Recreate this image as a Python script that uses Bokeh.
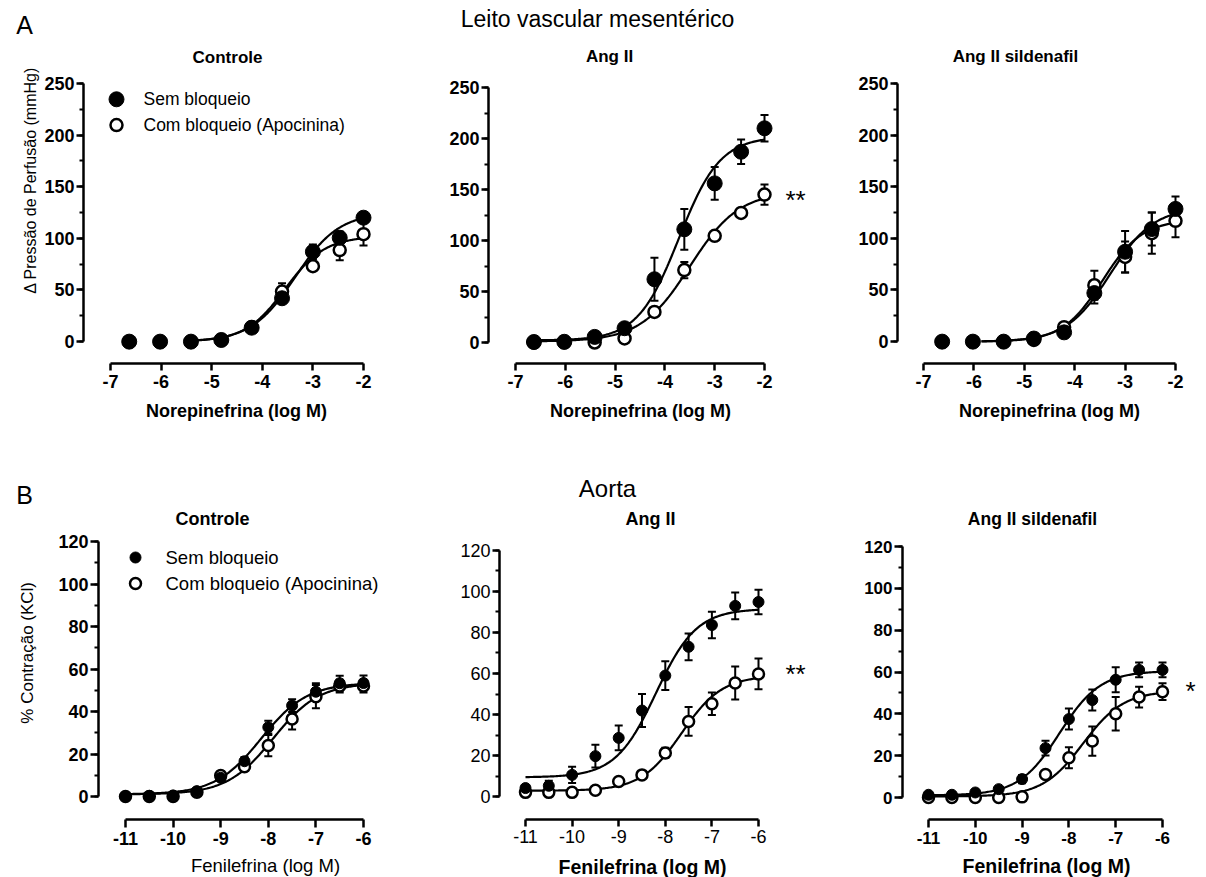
import numpy as np
from bokeh.plotting import figure
from bokeh.layouts import column, row
from bokeh.models import (Range1d, Whisker, TeeHead, ColumnDataSource,
                          SingleIntervalTicker, PrintfTickFormatter)
from bokeh.core.properties import value
from bokeh.embed import file_html
from bokeh.resources import INLINE

# ---------------- data ----------------
MES_X = [-6.63, -6.02, -5.41, -4.81, -4.21, -3.61, -3.0, -2.47, -2.0]
AO_X = [-11, -10.5, -10, -9.5, -9, -8.5, -8, -7.5, -7, -6.5, -6]

mes_ctrl_sem = [0, 0, 0, 1.6, 13.5, 42, 87, 100.6, 120]
mes_ctrl_sem_err = [0, 0, 0, 1, 2, 4, 7, 6, 4]
mes_ctrl_com = [0, 0, 0, 1.5, 14, 48.5, 73, 88.7, 104]
mes_ctrl_com_err = [0, 0, 0, 1, 2, 8, 3, 10, 11]

mes_ang_sem = [0.5, 0.7, 5.5, 14, 62, 111, 156, 187, 210]
mes_ang_sem_err = [0, 0, 2, 3, 21, 20, 16, 12, 13]
mes_ang_com = [0, 0, 0, 4, 30, 71, 104.6, 127, 145]
mes_ang_com_err = [0, 0, 0, 1, 3, 8, 3, 3, 10]

mes_sil_sem = [0, 0, 0, 3, 9, 47, 87, 109, 128.5]
mes_sil_sem_err = [0, 0, 0, 1, 2, 10, 20, 16, 12]
mes_sil_com = [0, 0, 0, 1.6, 14, 54.6, 82, 105, 117]
mes_sil_com_err = [0, 0, 0, 1, 2, 14, 15, 20, 16]

ao_ctrl_sem = [0, 0.3, 0.5, 2.5, 8.8, 16.6, 32.6, 42.8, 49.3, 53.3, 53.4]
ao_ctrl_sem_err = [0.5, 0.5, 0.5, 1, 1.5, 2, 3, 3, 4, 3.5, 3.5]
ao_ctrl_com = [0, 0, 0, 2, 9.9, 14, 24, 36.5, 47, 52, 52]
ao_ctrl_com_err = [0.5, 0.5, 0.5, 1, 2, 2, 5, 5, 5.5, 3, 3]

ao_ang_sem = [4.3, 5.4, 10.7, 19.8, 28.7, 42, 59, 73, 83.6, 92.9, 94.8]
ao_ang_sem_err = [1.5, 2.5, 4, 5.5, 6, 8, 7, 6.5, 6.5, 6.5, 6]
ao_ang_com = [2.2, 2.2, 2.2, 3.2, 7.5, 10.7, 21.4, 36.7, 45.3, 55.4, 59.8]
ao_ang_com_err = [0.5, 0.5, 0.5, 0.5, 1, 1.5, 2.5, 7, 5.5, 8, 7.5]

ao_sil_sem = [1.3, 1.3, 2.4, 4, 8.8, 23.6, 37.5, 46.6, 56.3, 61, 61]
ao_sil_sem_err = [0.5, 0.5, 0.5, 1, 2, 3.5, 5, 5, 6, 3.5, 3.5]
ao_sil_com = [0, 0, 0, 0, 0.3, 11, 19, 27, 40, 48, 50.6]
ao_sil_com_err = [0.5, 0.5, 0.5, 0.5, 0.5, 1, 5, 7, 8, 5, 4]

# sigmoidal fit parameters (bottom, top, logEC50, hill) and fitted x span
fit_mes_ctrl_sem = (0, 125, -3.35, 1.0)
fit_mes_ctrl_com = (0, 102, -3.55, 1.1)
fit_mes_ang_sem = (2, 202, -3.72, 1.05)
fit_mes_ang_com = (1, 148, -3.5, 0.88)
fit_mes_sil_sem = (0, 130, -3.3, 1.0)
fit_mes_sil_com = (0, 118, -3.45, 1.1)
fit_ao_ctrl_sem = (1, 53.5, -8.15, 0.9)
fit_ao_ctrl_com = (1, 53.5, -7.9, 0.9)
fit_ao_ang_sem = (9.5, 91.5, -8.2, 1.0)
fit_ao_ang_com = (3, 59, -7.65, 1.0)
fit_ao_sil_sem = (1, 60.5, -8.2, 1.0)
fit_ao_sil_com = (0.5, 51, -7.7, 1.0)

span_mes_ctrl = (-5.41, -2.0)
span_mes_ang = (-6.63, -2.0)
span_mes_sil = (-5.85, -2.0)
span_ao = (-11, -6)

MES_XTICKS = (-7, -2)
AO_XTICKS = (-11, -6)
MES_YB = (0, 250)
AO_YB = (0, 120)

LEGEND = ["Sem bloqueio", "Com bloqueio (Apocinina)"]

FONT = "Liberation Sans"
W = 1206


def sigmoid(x, prm):
    b, t, ec, h = prm
    return b + (t - b) / (1 + 10 ** ((ec - x) * h))


def no_title(p):
    try:
        p.title = None
    except Exception:
        pass


class Geo:
    def __init__(self, cx, cy, cw, ch, L, R, T, B, xa, xb, ya, yb):
        self.cx, self.cy, self.cw, self.ch = cx, cy, cw, ch
        self.L, self.R, self.T, self.B = L, R, T, B
        (self.xv0, self.xp0), (self.xv1, self.xp1) = xa, xb
        (self.yv0, self.yp0), (self.yv1, self.yp1) = ya, yb

    def dx(self, px):
        return self.xv0 + (px - self.xp0) * (self.xv1 - self.xv0) / (self.xp1 - self.xp0)

    def dy(self, py):
        return self.yv0 + (py - self.yp0) * (self.yv1 - self.yv0) / (self.yp1 - self.yp0)


def band(top, height, width=W, left=0):
    """A text-only strip whose frame spans its whole canvas (page pixel coords)."""
    b = figure(width=width, height=height,
               x_range=Range1d(left, left + width), y_range=Range1d(top + height, top),
               output_backend="svg", toolbar_location=None,
               x_axis_type=None, y_axis_type=None,
               min_border_left=0, min_border_right=0, min_border_top=0, min_border_bottom=0)
    no_title(b)
    b.outline_line_color = None
    b.grid.visible = False
    b.background_fill_color = "white"
    b.border_fill_color = "white"
    return b


def btext(b, text, px, py, size, bold=False, align="center", angle=0.0):
    b.text(x=[px], y=[py], text=[text], text_font=value(FONT),
           text_font_size=value(size), text_font_style="bold" if bold else "normal",
           text_align=align, text_baseline="middle", angle=angle, text_color="black")


def make_fig(g, xb, yb, yint, tick_size, tick_bold, tick_out, xstand):
    p = figure(width=g.cw, height=g.ch,
               x_range=Range1d(g.dx(g.L), g.dx(g.R)),
               y_range=Range1d(g.dy(g.B), g.dy(g.T)),
               output_backend="svg", toolbar_location=None,
               min_border_left=g.L - g.cx, min_border_right=g.cx + g.cw - g.R,
               min_border_top=g.T - g.cy, min_border_bottom=g.cy + g.ch - g.B)
    no_title(p)
    p.outline_line_color = None
    p.grid.visible = False
    p.background_fill_color = "white"
    p.border_fill_color = "white"
    p.xaxis.ticker = SingleIntervalTicker(interval=1, num_minor_ticks=0)
    p.yaxis.ticker = SingleIntervalTicker(interval=yint, num_minor_ticks=2)
    p.xaxis.formatter = PrintfTickFormatter(format="%d")
    p.yaxis.formatter = PrintfTickFormatter(format="%d")
    p.xaxis.bounds = xb
    p.yaxis.bounds = yb
    for ax in (p.xaxis, p.yaxis):
        ax.axis_line_width = 2.5
        ax.axis_line_color = "black"
        ax.major_tick_line_width = 2.5
        ax.minor_tick_line_width = 2
        ax.major_tick_out = tick_out
        ax.major_tick_in = 0
        ax.minor_tick_out = 4
        ax.minor_tick_in = 0
        ax.major_label_text_font = FONT
        ax.major_label_text_font_size = tick_size
        ax.major_label_text_font_style = "bold" if tick_bold else "normal"
        ax.major_label_text_color = "black"
    p.xaxis.major_label_standoff = xstand
    p.yaxis.major_label_standoff = 2
    return p


def ptext(p, g, text, px, py, size, align="center", font=FONT, baseline="middle"):
    p.text(x=[g.dx(px)], y=[g.dy(py)], text=[text], text_font=value(font),
           text_font_size=value(size), text_align=align, text_baseline=baseline,
           text_color="black")


def legend(p, g, mx, tx, y0, y1, fsize, osize, tsize):
    p.scatter([g.dx(mx)], [g.dy(y0)], size=fsize, marker="circle",
              fill_color="black", line_color="black")
    p.scatter([g.dx(mx)], [g.dy(y1)], size=osize, marker="circle",
              fill_color="white", line_color="black", line_width=2.5)
    ptext(p, g, LEGEND[0], tx, y0, tsize, align="left")
    ptext(p, g, LEGEND[1], tx, y1, tsize, align="left")


def draw_series(p, xs, sem, sem_err, com, com_err, fit_sem, fit_com, span,
                fsize, osize):
    for ys, es in ((com, com_err), (sem, sem_err)):
        src = ColumnDataSource(dict(x=xs, up=[a + b for a, b in zip(ys, es)],
                                    lo=[a - b for a, b in zip(ys, es)]))
        w = Whisker(source=src, base="x", upper="up", lower="lo",
                    dimension="height", line_width=2, line_color="black",
                    upper_head=TeeHead(size=8, line_width=2, line_color="black"),
                    lower_head=TeeHead(size=8, line_width=2, line_color="black"),
                    level="underlay")
        p.add_layout(w)
    xx = np.linspace(span[0], span[1], 200)
    p.line(xx, sigmoid(xx, fit_com), line_color="black", line_width=2.2)
    p.line(xx, sigmoid(xx, fit_sem), line_color="black", line_width=2.2)
    p.scatter(xs, com, size=osize, marker="circle", fill_color="white",
              line_color="black", line_width=2.5)
    p.scatter(xs, sem, size=fsize, marker="circle", fill_color="black",
              line_color="black", line_width=1)


# ---------------- geometry (page pixels) ----------------
TOP_Y, TOP_H = 68, 330          # row 1 canvases: 68..398
BOT_Y, BOT_H = 530, 326         # row 2 canvases: 530..856
YL_W = 40                       # strip for rotated y-axis titles

g1 = Geo(40, TOP_Y, 360, TOP_H, 83, 390, 68, 365, (-7, 110), (-2, 363), (0, 343), (250, 83))
g2 = Geo(400, TOP_Y, 430, TOP_H, 488, 815, 68, 363, (-7, 515), (-2, 764), (0, 342), (250, 87))
g3 = Geo(830, TOP_Y, 376, TOP_H, 897, 1200, 68, 365, (-7, 923), (-2, 1175), (0, 343), (250, 83))
g4 = Geo(40, BOT_Y, 360, BOT_H, 98, 395, 530, 819, (-11, 125), (-6, 363), (0, 796), (120, 541))
g5 = Geo(400, BOT_Y, 430, BOT_H, 499, 815, 530, 824, (-11, 525), (-6, 758), (0, 801), (120, 550))
g6 = Geo(830, BOT_Y, 376, BOT_H, 902, 1200, 530, 819, (-11, 928), (-6, 1162), (0, 797), (120, 546))

# ---------------- header strip ----------------
bandA = band(0, TOP_Y)
btext(bandA, "A", 24, 24, "25px")
btext(bandA, "Leito vascular mesentérico", 597, 18, "23px")
btext(bandA, "Controle", 227, 57, "17px", bold=True)
btext(bandA, "Ang II", 609, 56, "17px", bold=True)
btext(bandA, "Ang II sildenafil", 1015, 56, "17px", bold=True)

yl1 = band(TOP_Y, TOP_H, width=YL_W)
btext(yl1, "Δ Pressão de Perfusão (mmHg)", 30, 193, "16px", angle=np.pi / 2)

# ---------------- top row: Leito vascular mesentérico ----------------
p1 = make_fig(g1, MES_XTICKS, MES_YB, 50, "18px", True, 7, 4)
draw_series(p1, MES_X, mes_ctrl_sem, mes_ctrl_sem_err, mes_ctrl_com, mes_ctrl_com_err,
            fit_mes_ctrl_sem, fit_mes_ctrl_com, span_mes_ctrl, 15, 12)
legend(p1, g1, 116, 143, 99, 125, 15, 12, "17.5px")

p2 = make_fig(g2, MES_XTICKS, MES_YB, 50, "18px", True, 7, 4)
draw_series(p2, MES_X, mes_ang_sem, mes_ang_sem_err, mes_ang_com, mes_ang_com_err,
            fit_mes_ang_sem, fit_mes_ang_com, span_mes_ang, 15, 12)
ptext(p2, g2, "**", 795, 195 + 4, "26px", baseline="alphabetic")

p3 = make_fig(g3, MES_XTICKS, MES_YB, 50, "18px", True, 7, 4)
draw_series(p3, MES_X, mes_sil_sem, mes_sil_sem_err, mes_sil_com, mes_sil_com_err,
            fit_mes_sil_sem, fit_mes_sil_com, span_mes_sil, 15, 12)

# ---------------- middle strip ----------------
bandB = band(TOP_Y + TOP_H, BOT_Y - TOP_Y - TOP_H)
btext(bandB, "Norepinefrina (log M)", 236, 410, "18px", bold=True)
btext(bandB, "Norepinefrina (log M)", 640, 410, "18px", bold=True)
btext(bandB, "Norepinefrina (log M)", 1049, 410, "18px", bold=True)
btext(bandB, "B", 24, 494, "25px")
btext(bandB, "Aorta", 607, 488, "24px")
btext(bandB, "Controle", 212, 518, "18px", bold=True)
btext(bandB, "Ang II", 650, 518, "18px", bold=True)
btext(bandB, "Ang II sildenafil", 1032, 518, "17.5px", bold=True)

yl4 = band(BOT_Y, BOT_H, width=YL_W)
btext(yl4, "% Contração (KCl)", 27, 668, "17px", angle=np.pi / 2)

# ---------------- bottom row: Aorta ----------------
p4 = make_fig(g4, AO_XTICKS, AO_YB, 20, "18px", True, 8, 4)
draw_series(p4, AO_X, ao_ctrl_sem, ao_ctrl_sem_err, ao_ctrl_com, ao_ctrl_com_err,
            fit_ao_ctrl_sem, fit_ao_ctrl_com, span_ao, 11, 11)
legend(p4, g4, 135, 165, 557, 583, 11, 11, "18.5px")

p5 = make_fig(g5, AO_XTICKS, AO_YB, 20, "18px", False, 7, 3)
draw_series(p5, AO_X, ao_ang_sem, ao_ang_sem_err, ao_ang_com, ao_ang_com_err,
            fit_ao_ang_sem, fit_ao_ang_com, span_ao, 11, 11)
ptext(p5, g5, "**", 795, 672 + 4, "26px", baseline="alphabetic")

p6 = make_fig(g6, AO_XTICKS, AO_YB, 20, "17px", True, 8, 4)
draw_series(p6, AO_X, ao_sil_sem, ao_sil_sem_err, ao_sil_com, ao_sil_com_err,
            fit_ao_sil_sem, fit_ao_sil_com, span_ao, 11, 11)
ptext(p6, g6, "*", 1190, 686 + 4, "26px", baseline="alphabetic")

# ---------------- bottom strip ----------------
bandC = band(BOT_Y + BOT_H, 877 - BOT_Y - BOT_H)
btext(bandC, "Fenilefrina (log M)", 265, 865, "18.5px")
btext(bandC, "Fenilefrina (log M)", 642, 866, "19.5px", bold=True)
btext(bandC, "Fenilefrina (log M)", 1046, 865, "19.5px", bold=True)

layout = column(bandA, row(yl1, p1, p2, p3), bandB, row(yl4, p4, p5, p6), bandC)
open("out.html", "w").write(file_html(layout, INLINE))
